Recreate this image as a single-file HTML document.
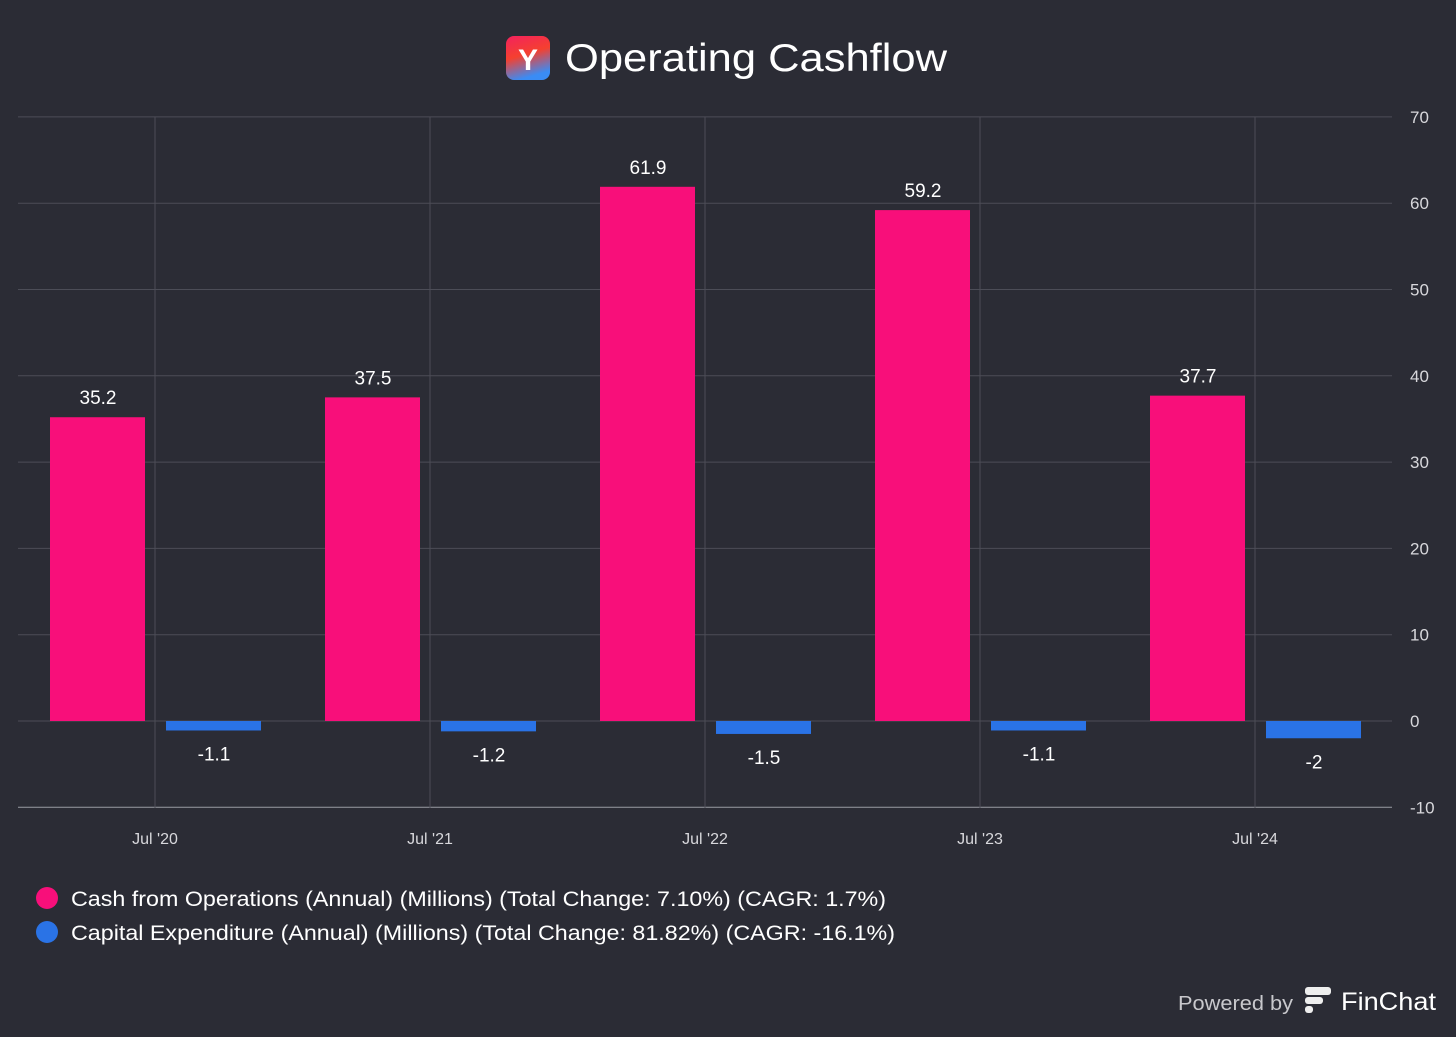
<!DOCTYPE html>
<html><head><meta charset="utf-8"><style>
body{margin:0;background:#2b2c35;width:1456px;height:1032px;overflow:hidden;font-family:"Liberation Sans",sans-serif}
</style></head><body>
<svg width="1456" height="1032">
<rect width="1456" height="1032" fill="#2b2c35"/>
<defs><linearGradient id="lg" x1="0" y1="0" x2="0.3" y2="1"><stop offset="0" stop-color="#f3225e"/><stop offset="0.5" stop-color="#f5402f"/><stop offset="1" stop-color="#3a8cf5"/></linearGradient></defs>
<g>
<rect x="506" y="36" width="44" height="44" rx="8" fill="url(#lg)"/>
<text x="528" y="70" text-anchor="middle" fill="#fff" font-size="30" font-weight="bold">Y</text>
<text x="565" y="71" fill="#fff" font-size="39" textLength="382" lengthAdjust="spacingAndGlyphs">Operating Cashflow</text>
</g>
<g id="grid"></g>
<g id="bars"></g>
<g>
<g><circle cx="47" cy="898" r="11" fill="#f80f7a"/><text x="71" y="906" fill="#fff" font-size="21" textLength="815" lengthAdjust="spacingAndGlyphs">Cash from Operations (Annual) (Millions) (Total Change: 7.10%) (CAGR: 1.7%)</text></g>
<g><circle cx="47" cy="932" r="11" fill="#2a73e6"/><text x="71" y="940" fill="#fff" font-size="21" textLength="824" lengthAdjust="spacingAndGlyphs">Capital Expenditure (Annual) (Millions) (Total Change: 81.82%) (CAGR: -16.1%)</text></g>
</g>
<g>
<text x="1178" y="1010" fill="#c8c8cc" font-size="20" textLength="115" lengthAdjust="spacingAndGlyphs">Powered by</text>
<rect x="1305" y="987" width="26" height="8" rx="3" fill="#eee"/><rect x="1305" y="997" width="18" height="7" rx="3" fill="#eee"/><rect x="1305" y="1006" width="8" height="7" rx="3" fill="#eee"/>
<text x="1341" y="1010" fill="#fff" font-size="25" textLength="95" lengthAdjust="spacingAndGlyphs">FinChat</text>
</g>
</svg>
<script>
const categories=["Jul '20","Jul '21","Jul '22","Jul '23","Jul '24"];
const cashOps=[35.2,37.5,61.9,59.2,37.7];
const capex=[-1.1,-1.2,-1.5,-1.1,-2];
const yTicks=[70,60,50,40,30,20,10,0,-10];
const NS="http://www.w3.org/2000/svg";
const y=v=>721-(v*86.3/10);
const x=i=>155+i*275;
function mk(tag,attrs,parent,text){const e=document.createElementNS(NS,tag);for(const k in attrs)e.setAttribute(k,attrs[k]);if(text!==undefined)e.textContent=text;parent.appendChild(e);return e;}
const grid=document.getElementById('grid'),bars=document.getElementById('bars');
yTicks.forEach(t=>{
 const l=mk('line',{x1:18,x2:1392,y1:y(t),y2:y(t),stroke:t===-10?'#9a9ba3':'#4c4d57','stroke-width':1},grid);
 
 
 const tx=mk('text',{x:1410,y:y(t)+6,fill:'#d8d8dc','font-size':17},grid,String(t));
 
 
});
categories.forEach((c,i)=>{
 const l=mk('line',{x1:x(i),x2:x(i),y1:117,y2:808,stroke:'#4c4d57','stroke-width':1},grid);
 
 
 const t=mk('text',{x:x(i),y:844,fill:'#d8d8dc','font-size':16,'text-anchor':'middle'},grid,c);
 
 
 const v=cashOps[i];
 const b=mk('rect',{x:x(i)-105,y:Math.min(y(v),y(0)),width:95,height:Math.abs(y(v)-y(0)),fill:'#f80f7a'},bars);
 
 
 const lt=mk('text',{x:x(i)-57,y:y(v)-13,fill:'#fff','font-size':19,'text-anchor':'middle'},bars,String(v));
 
 
 const w=capex[i];
 const b2=mk('rect',{x:x(i)+11,y:y(0),width:95,height:Math.abs(y(w)-y(0)),fill:'#2a73e6'},bars);
 
 
 const lt2=mk('text',{x:x(i)+59,y:y(w)+30,fill:'#fff','font-size':19,'text-anchor':'middle'},bars,String(w));
 
 
});
</script>
</body></html>
